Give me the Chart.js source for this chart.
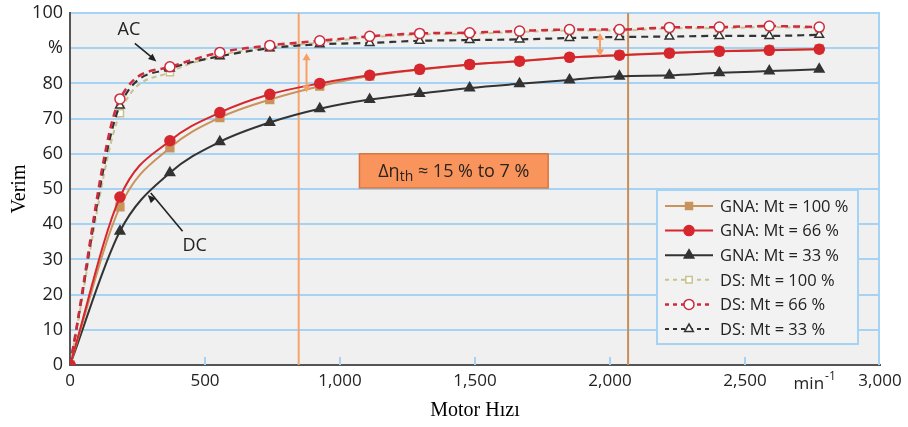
<!DOCTYPE html>
<html><head><meta charset="utf-8">
<script src="https://cdn.jsdelivr.net/npm/chart.js@4.4.1/dist/chart.umd.min.js"></script>
<style>html,body{margin:0;padding:0;background:#fff;}#wrap{width:908px;height:427px;position:relative}</style>
</head><body><div id="wrap"><canvas id="c"></canvas></div>
<script>
// ---- data ----
const speeds = [0,185,370,555,740,925,1110,1295,1480,1665,1850,2035,2220,2405,2590,2775];
const gna100 = [0,44.9,61.7,70.3,75.4,79.2,82.1,83.9,85.3,86.4,87.4,88.1,88.7,89.2,89.5,89.8];
const gna66  = [0,47.7,63.7,71.7,76.9,80.0,82.3,84.0,85.4,86.3,87.4,88.0,88.6,89.1,89.4,89.7];
const gna33  = [0,38.0,54.6,63.4,68.9,72.8,75.4,77.1,78.7,79.9,81.0,82.0,82.3,83.0,83.5,84.0];
const ds100  = [0,71.5,83.2,88.0,90.2,91.6,93.1,93.9,94.1,94.6,95.0,95.0,95.6,95.7,96.0,95.7];
const ds66   = [0,75.6,84.7,88.8,90.8,92.1,93.4,94.2,94.4,94.9,95.3,95.3,95.9,96.0,96.3,96.0];
const ds33   = [0,73.7,84.2,87.7,90.0,91.1,91.5,92.1,92.3,92.5,92.9,93.2,93.3,93.5,93.5,93.8];
const seriesLabels = ['GNA: Mt = 100 %','GNA: Mt = 66 %','GNA: Mt = 33 %','DS: Mt = 100 %','DS: Mt = 66 %','DS: Mt = 33 %'];
const xTickValues = [0,500,1000,1500,2000,2500,3000];
const xTickLabels = ['0','500','1,000','1,500','2,000','2,500','3,000'];
const yTickValues = [0,10,20,30,40,50,60,70,80,90,100];
const yTickLabels = ['0','10','20','30','40','50','60','70','80','%','100'];
const markerLines = [847, 2067];           // vertical reference lines (min-1)
const gapArrows = [[876, 77.4, 88.6],[1963, 87.7, 94.3]];

const SANS = "'Open Sans','Noto Sans',sans-serif";
const SERIF = "'Liberation Serif','DejaVu Serif',serif";
const GRIDBLUE = '#a6d3f3';

function pts(ys){ return speeds.map((x,i)=>({x:x,y:ys[i]})); }

const datasets = [
  {label:seriesLabels[0], data:pts(gna100), borderColor:'#c9935c', backgroundColor:'#c9935c', pointStyle:'rect', pointRadius:5.5, borderWidth:2, order:2},
  {label:seriesLabels[1], data:pts(gna66), borderColor:'#d6262e', backgroundColor:'#d6262e', pointStyle:'circle', pointRadius:5, borderWidth:2, order:1},
  {label:seriesLabels[2], data:pts(gna33), borderColor:'#333333', backgroundColor:'#333333', pointStyle:'triangle', pointRadius:5.5, borderWidth:2, order:3},
  {label:seriesLabels[3], data:pts(ds100), borderColor:'#c8c28c', backgroundColor:'#ffffff', pointStyle:'rect', pointRadius:5, borderWidth:2, borderDash:[5,4], order:6},
  {label:seriesLabels[4], data:pts(ds66), borderColor:'#d02a3c', backgroundColor:'#ffffff', pointStyle:'circle', pointRadius:5, borderWidth:2.5, borderDash:[7,5], order:4},
  {label:seriesLabels[5], data:pts(ds33), borderColor:'#333333', backgroundColor:'#ffffff', pointStyle:'triangle', pointRadius:5, borderWidth:2.2, borderDash:[7,5], order:5}
];
datasets.forEach(d=>{ d.cubicInterpolationMode='monotone'; d.pointBorderColor=d.borderColor; d.pointBackgroundColor=d.backgroundColor; d.pointBorderWidth=1.5; d.fill=false; });

function drawMarker(ctx, style, x, y, r, fill, stroke){
  ctx.save(); ctx.setLineDash([]); ctx.fillStyle=fill; ctx.strokeStyle=stroke; ctx.lineWidth=1.5;
  ctx.beginPath();
  if(style==='circle'){ ctx.arc(x,y,r,0,Math.PI*2); }
  else if(style==='rect'){ const s=r*Math.SQRT1_2*2*0.9; ctx.rect(x-s/2,y-s/2,s,s); }
  else { ctx.moveTo(x,y-r); ctx.lineTo(x+r*0.87,y+r*0.5); ctx.lineTo(x-r*0.87,y+r*0.5); ctx.closePath(); }
  ctx.fill(); ctx.stroke(); ctx.restore();
}
function arrowHead(ctx,x1,y1,x2,y2,len,w){
  const a=Math.atan2(y2-y1,x2-x1);
  ctx.beginPath(); ctx.moveTo(x2,y2);
  ctx.lineTo(x2-len*Math.cos(a)+w*Math.sin(a), y2-len*Math.sin(a)-w*Math.cos(a));
  ctx.lineTo(x2-len*Math.cos(a)-w*Math.sin(a), y2-len*Math.sin(a)+w*Math.cos(a));
  ctx.closePath(); ctx.fill();
}

const decor = {
  id:'decor',
  beforeDraw(chart){
    const {ctx, chartArea:a} = chart;
    ctx.save(); ctx.fillStyle='#f0f0f0'; ctx.fillRect(a.left,a.top,a.right-a.left,a.bottom-a.top); ctx.restore();
  },
  beforeDatasetsDraw(chart){
    const {ctx, chartArea:a, scales:{x,y}} = chart;
    ctx.save();
    ctx.strokeStyle=GRIDBLUE; ctx.lineWidth=2;
    xTickValues.slice(1,-1).forEach(v=>{ const px=x.getPixelForValue(v); ctx.beginPath(); ctx.moveTo(px,a.bottom); ctx.lineTo(px,a.bottom-8); ctx.stroke(); });
    ctx.beginPath(); ctx.moveTo(a.right-1,a.top); ctx.lineTo(a.right-1,a.bottom); ctx.stroke();
    const vcol=['#f6a36c','#c98d57'];
    markerLines.forEach((v,i)=>{ const px=x.getPixelForValue(v); ctx.strokeStyle=vcol[i]; ctx.lineWidth=2; ctx.beginPath(); ctx.moveTo(px,a.top); ctx.lineTo(px,a.bottom); ctx.stroke(); });
    ctx.restore();
  },
  afterDatasetsDraw(chart){
    const {ctx, chartArea:a, scales:{x,y}} = chart;
    ctx.save();
    ctx.strokeStyle='#f7a064'; ctx.fillStyle='#f7a064'; ctx.lineWidth=2;
    gapArrows.forEach(([xv,y0,y1])=>{
      const px=x.getPixelForValue(xv), pa=y.getPixelForValue(y1), pb=y.getPixelForValue(y0);
      ctx.beginPath(); ctx.moveTo(px,pa+5); ctx.lineTo(px,pb-5); ctx.stroke();
      arrowHead(ctx,px,pb,px,pa,7,4); arrowHead(ctx,px,pa,px,pb,7,4);
    });
    ctx.fillStyle='#222'; ctx.strokeStyle='#222'; ctx.lineWidth=1.6;
    ctx.font="18px "+SANS; ctx.textAlign='center'; ctx.textBaseline='middle';
    ctx.fillText('AC', x.getPixelForValue(218), y.getPixelForValue(95.1));
    ctx.fillText('DC', x.getPixelForValue(462), y.getPixelForValue(33.9));
    let ax1=x.getPixelForValue(240), ay1=y.getPixelForValue(91.4), ax2=x.getPixelForValue(320), ay2=y.getPixelForValue(86.2);
    ctx.beginPath(); ctx.moveTo(ax1,ay1); ctx.lineTo(ax2-3,ay2-3); ctx.stroke(); arrowHead(ctx,ax1,ay1,ax2,ay2,8,3.5);
    ax1=x.getPixelForValue(417); ay1=y.getPixelForValue(38); ax2=x.getPixelForValue(288); ay2=y.getPixelForValue(48.3);
    ctx.beginPath(); ctx.moveTo(ax1,ay1); ctx.lineTo(ax2+3,ay2-2); ctx.stroke(); arrowHead(ctx,ax1,ay1,ax2,ay2,8,3.5);
    const bx0=x.getPixelForValue(1072), bx1=x.getPixelForValue(1771), by0=y.getPixelForValue(60), by1=y.getPixelForValue(50.3);
    ctx.fillStyle='#f9955c'; ctx.fillRect(bx0,by0,bx1-bx0,by1-by0);
    ctx.strokeStyle='#d8773f'; ctx.lineWidth=1.5; ctx.strokeRect(bx0,by0,bx1-bx0,by1-by0);
    ctx.fillStyle='#2a2320'; ctx.textAlign='left'; ctx.textBaseline='alphabetic';
    const t1='\u0394\u03b7', t2='th', t3=' \u2248 15 % to 7 %';
    ctx.font="18px "+SANS; const w1=ctx.measureText(t1).width, w3=ctx.measureText(t3).width;
    ctx.font="14px "+SANS; const w2=ctx.measureText(t2).width;
    let tx=(bx0+bx1)/2-(w1+w2+w3)/2; const ty=(by0+by1)/2+6;
    ctx.font="18px "+SANS; ctx.fillText(t1,tx,ty); tx+=w1;
    ctx.font="14px "+SANS; ctx.fillText(t2,tx,ty+4); tx+=w2;
    ctx.font="18px "+SANS; ctx.fillText(t3,tx,ty);
    const lx=a.right-223, ly=a.top+177, lw=201, lh=154;
    ctx.fillStyle='#f2f2f2'; ctx.fillRect(lx,ly,lw,lh);
    ctx.strokeStyle=GRIDBLUE; ctx.lineWidth=2; ctx.strokeRect(lx,ly,lw,lh);
    ctx.font="16.5px "+SANS; ctx.textBaseline='middle'; ctx.textAlign='left';
    chart.data.datasets.forEach((d,i)=>{
      const ry=ly+16+i*24.6;
      ctx.save(); ctx.strokeStyle=d.borderColor; ctx.lineWidth=d.borderWidth; ctx.setLineDash(d.borderDash?[4,4]:[]);
      ctx.beginPath(); ctx.moveTo(lx+8,ry); ctx.lineTo(lx+56,ry); ctx.stroke(); ctx.restore();
      drawMarker(ctx,d.pointStyle,lx+32,ry,d.pointRadius,d.backgroundColor,d.borderColor);
      ctx.fillStyle='#222'; ctx.fillText(d.label,lx+63,ry+1);
    });
    ctx.restore();
  },
  afterDraw(chart){
    const {ctx, chartArea:a, scales:{x}} = chart;
    ctx.save(); ctx.fillStyle='#222'; ctx.textBaseline='middle'; ctx.textAlign='left';
    const px=x.getPixelForValue(2680);
    ctx.font="17px "+SANS; ctx.fillText('min',px,a.bottom+19);
    const mw=ctx.measureText('min').width;
    ctx.font="12px "+SANS; ctx.fillText('-1',px+mw+1,a.bottom+12);
    ctx.restore();
  }
};

new Chart(document.getElementById('c'), {
  type:'line',
  data:{datasets:datasets},
  options:{
    responsive:true, maintainAspectRatio:false, animation:false,
    layout:{padding:{left:0,right:28,top:13,bottom:0}},
    plugins:{legend:{display:false}, tooltip:{enabled:false}},
    scales:{
      x:{type:'linear', min:0, max:3000,
        afterBuildTicks(s){ s.ticks = xTickValues.map(v=>({value:v})); },
        ticks:{callback:(v)=>xTickLabels[xTickValues.indexOf(v)], font:{family:SANS,size:17}, color:'#222', maxRotation:0, padding:6},
        grid:{display:false, drawTicks:false},
        border:{display:true,color:'#555',width:2},
        title:{display:true,text:'Motor Hızı',font:{family:SERIF,size:20},color:'#000',padding:{top:2,bottom:4}},
        afterFit(s){ s.height=62; s.paddingLeft=0; s.paddingRight=0; }
      },
      y:{min:0,max:100,
        afterBuildTicks(s){ s.ticks = yTickValues.map(v=>({value:v})); },
        ticks:{callback:(v)=>yTickLabels[yTickValues.indexOf(v)], font:{family:SANS,size:18}, color:'#222', padding:7},
        grid:{color:GRIDBLUE,lineWidth:2,drawTicks:false},
        border:{display:true,color:'#555',width:2},
        title:{display:true,text:'Verim',font:{family:SERIF,size:20},color:'#000',padding:{top:8,bottom:0}},
        afterFit(s){ s.width=70; s.paddingTop=0; s.paddingBottom=0; }
      }
    }
  },
  plugins:[decor]
});
</script></body></html>
